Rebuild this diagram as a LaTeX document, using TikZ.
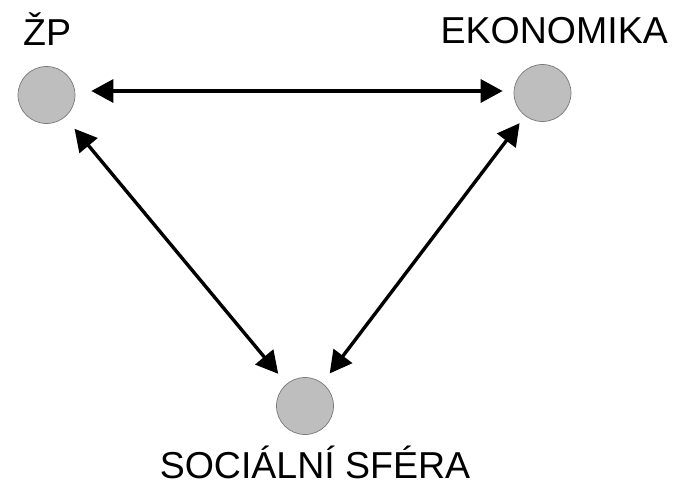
\documentclass[tikz,border=0pt]{standalone}
\usepackage{fontspec}
\setmainfont{Liberation Sans}
\usetikzlibrary{arrows.meta}
\definecolor{dotfill}{RGB}{190,190,190}
\definecolor{dotline}{RGB}{120,120,120}
\tikzset{
  dot/.style={circle,minimum size=57pt,inner sep=0pt,fill=dotfill,draw=dotline,line width=0.7pt},
  lbl/.style={inner sep=0pt,font=\fontsize{37.5}{40}\selectfont},
  arr/.style={line width=3.4pt,{Triangle[length=22pt,width=23pt]}-{Triangle[length=22pt,width=23pt]}}
}
\begin{document}
\begin{tikzpicture}[x=1pt,y=-1pt]
\useasboundingbox (0,0) rectangle (681,485);
\node[dot] (zp) at (46.5,95) {};
\node[dot] (eko) at (542.5,93) {};
\node[dot] (soc) at (305,406) {};
\node[lbl,anchor=base west] (tzp) at (23,45) {ŽP};
\node[lbl,anchor=base east] (teko) at (668,43) {EKONOMIKA};
\node[lbl,anchor=base] (tsoc) at (315,478.5) {SOCIÁLNÍ SFÉRA};
\draw[arr,shorten <=16pt,shorten >=11pt] ([yshift=4pt]zp.east) -- ([yshift=2pt]eko.west);
\draw[arr,shorten <=15pt,shorten >=13pt] (zp) -- (soc);
\draw[arr,shorten <=9pt,shorten >=12pt] (eko) -- (soc);
\end{tikzpicture}
\end{document}
